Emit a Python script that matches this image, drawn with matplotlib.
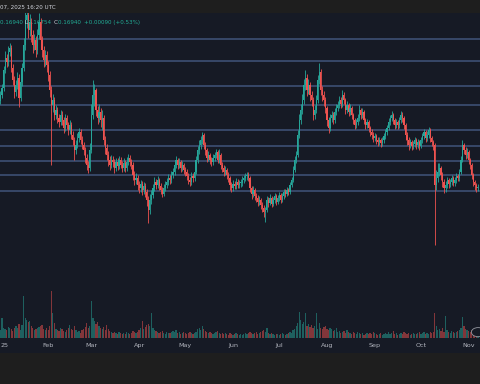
import numpy as np
import matplotlib
matplotlib.use("Agg")
import matplotlib.pyplot as plt
import matplotlib.dates as mdates
from matplotlib.patches import Rectangle, Circle
import datetime as dt

# ---------------- data (prices in thousandths of USDT, daily candles from 2025-01-01) -------------
first_open = 255
closes = [261,268,286,298,294,304,308,288,276,264,
          271,278,258,274,288,311,336,341,326,334,
          321,311,316,306,321,334,316,306,296,301,
          291,281,266,251,256,241,246,238,234,241,
          236,228,238,231,226,231,221,216,206,211,
          218,224,216,211,206,198,191,188,206,241,
          261,266,246,238,244,236,238,216,208,201,
          196,191,196,194,188,194,190,196,191,188,
          193,188,194,198,194,191,181,176,178,171,
          168,172,166,170,164,156,146,156,161,168,
          174,171,176,170,166,162,168,171,174,178,
          176,181,184,191,196,191,194,188,191,186,
          184,180,176,174,180,178,184,196,206,211,
          216,221,211,206,198,201,196,194,198,201,
          204,196,201,191,188,184,186,181,178,171,
          168,172,170,174,171,173,173,176,178,180,
          181,178,168,162,166,160,158,154,156,151,
          148,144,146,156,153,158,152,156,160,154,
          158,161,156,160,164,162,166,164,171,176,
          186,196,201,221,236,246,256,271,278,266,
          271,261,256,241,246,256,276,284,266,261,
          256,248,236,228,238,241,236,244,248,251,
          256,252,261,256,246,251,244,248,241,236,
          231,234,238,246,241,244,236,231,234,228,
          224,221,218,220,216,214,216,213,216,220,
          224,228,234,238,241,236,231,234,231,236,
          241,238,231,221,216,211,214,210,212,216,
          211,214,210,216,220,224,218,221,226,218,
          214,211,171,178,184,188,181,174,168,171,
          176,172,174,178,173,176,180,178,184,196,
          211,206,201,204,196,191,181,174,171,168,169]
highs = [265,272,290,305,302,310,313,311,292,280,
         276,284,282,279,293,318,345,352,346,342,
         338,326,322,320,327,343,338,320,310,306,
         305,295,285,270,262,259,251,249,242,246,
         245,239,242,241,234,236,234,225,219,216,
         223,228,227,220,214,209,202,195,213,252,
         276,272,268,250,252,248,246,241,220,212,
         205,200,201,200,197,198,198,200,199,195,
         198,196,199,202,201,197,194,185,183,181,
         175,176,175,174,173,167,160,162,166,172,
         179,177,180,178,173,169,172,175,178,182,
         181,185,188,196,200,198,198,196,195,193,
         189,187,183,179,184,183,188,200,210,216,
         220,224,223,214,208,205,203,199,202,204,
         207,206,207,203,194,191,190,188,184,180,
         174,176,175,178,177,176,177,180,181,183,
         184,184,180,170,170,168,163,161,160,158,
         154,151,149,160,159,162,160,159,163,162,
         161,164,163,163,167,167,169,168,174,179,
         190,200,205,226,242,252,262,277,286,282,
         277,274,265,259,251,261,281,293,287,270,
         265,259,250,239,242,245,244,248,252,255,
         260,259,266,264,258,255,253,252,250,243,
         238,237,242,251,248,248,246,238,237,236,
         230,227,224,223,222,219,219,218,219,223,
         227,231,238,241,245,243,238,237,236,239,
         245,244,240,233,224,219,217,216,215,219,
         218,217,216,219,223,227,226,225,229,228,
         220,216,213,186,193,193,190,184,177,175,
         179,178,177,181,180,179,183,182,187,200,
         216,213,209,208,206,198,193,183,176,173,172]
lows = [252,258,265,283,289,290,300,284,271,258,
        260,267,249,255,270,285,306,328,318,320,
        314,303,306,299,302,317,310,299,289,290,
        284,275,259,191,244,236,237,233,229,231,
        231,223,225,227,221,222,217,211,196,202,
        208,214,212,207,201,193,186,183,185,203,
        237,250,240,232,234,229,226,211,202,196,
        190,186,188,189,183,185,186,187,188,184,
        185,184,185,191,190,187,176,171,172,166,
        163,164,161,162,159,150,133,142,152,158,
        165,167,168,166,162,159,160,165,168,171,
        172,173,178,181,188,187,188,184,185,182,
        180,176,172,170,171,174,175,182,193,202,
        207,212,207,201,194,195,192,190,191,195,
        198,193,193,187,184,180,181,177,174,166,
        164,165,167,167,168,168,169,170,173,175,
        176,175,164,157,159,156,154,150,151,147,
        144,139,134,144,149,151,149,150,153,151,
        152,155,153,154,157,159,160,161,162,169,
        174,184,193,199,218,232,242,252,266,260,
        262,255,250,236,237,243,253,272,261,255,
        250,243,230,223,225,234,232,233,241,245,
        248,248,249,252,242,243,240,241,237,232,
        227,228,231,235,237,238,232,227,228,224,
        220,217,214,215,212,210,211,209,210,213,
        217,221,226,231,235,232,227,228,227,228,
        233,234,227,216,211,206,208,206,207,209,
        207,208,206,208,213,217,214,215,218,214,
        210,206,111,166,174,180,176,169,163,164,
        168,168,169,171,170,170,173,175,175,182,
        194,202,197,198,192,187,177,170,166,164,165]
volumes = [80,200,100,90,80,110,100,90,70,100,
           120,100,140,80,130,420,200,180,160,170,
           120,100,80,90,100,110,120,130,90,80,
           100,80,120,470,250,150,90,80,70,100,
           90,70,60,80,100,130,90,80,120,80,
           60,70,50,80,90,110,150,100,120,370,
           200,170,140,160,120,100,90,110,80,130,
           90,70,60,50,60,50,40,60,50,40,
           50,40,60,50,40,50,70,60,50,60,
           80,100,170,90,110,130,140,120,250,100,
           80,70,60,50,60,70,50,40,60,50,
           50,60,70,60,80,50,60,40,50,60,
           50,40,50,60,50,40,50,60,90,100,
           80,120,90,70,60,50,60,50,40,50,
           60,70,50,40,50,40,50,40,30,50,
           40,30,40,50,40,30,40,30,40,50,
           40,50,60,50,40,50,60,40,50,60,
           70,80,60,100,50,40,50,40,30,40,
           40,30,40,50,40,30,40,50,60,50,
           80,90,120,150,260,180,140,160,250,120,
           140,110,130,100,120,250,90,150,100,90,
           110,120,90,80,100,90,70,80,100,60,
           70,50,60,70,50,80,60,50,40,60,
           50,40,60,50,40,50,30,40,50,40,
           50,40,60,50,40,30,40,50,30,40,
           50,40,60,40,50,70,40,50,30,40,
           50,40,60,50,40,50,30,40,50,40,
           40,50,60,40,50,60,40,50,40,60,
           50,60,250,120,80,90,70,100,60,220,
           80,60,50,70,60,50,60,70,80,100,
           210,120,90,80,70,60,80,70,60,50,40]   # millions
level_lines = [317, 295, 270, 251, 226, 210, 195, 181, 165]
month_ticks = ["2025-01-01", "2025-02-01", "2025-03-01", "2025-04-01", "2025-05-01",
               "2025-06-01", "2025-07-01", "2025-08-01", "2025-09-01", "2025-10-01",
               "2025-11-01"]
month_labels = ["25", "Feb", "Mar", "Apr", "May", "Jun", "Jul", "Aug", "Sep", "Oct", "Nov"]
header_text = "07, 2025 16:20 UTC"
legend_parts = [("0.16940 ", "teal"), ("L", "lbl"), ("0.16754  ", "teal"), ("C", "lbl"),
                ("0.16940  ", "teal"), ("+0.00090 (+0.53%)", "teal")]

# ---------------- styling ----------------
W, H = 480, 384
NAVY = "#161a25"
GRAY = "#1e1e1e"
UP = "#26a69a"
DN = "#ef5350"
LINE = "#3a4b6e"
TXT = "#b2b5be"
FS = 4.1

closes_p = np.array(closes) / 1000.0
highs_p = np.array(highs) / 1000.0
lows_p = np.array(lows) / 1000.0
opens_p = np.concatenate([[first_open / 1000.0], closes_p[:-1]])
vols = np.array(volumes, dtype=float)

start = mdates.date2num(dt.datetime(2025, 1, 1))
x = start + np.arange(len(closes_p))
up = closes_p >= opens_p
colors = np.where(up, UP, DN)

fig = plt.figure(figsize=(W / 100, H / 100), dpi=100, facecolor=GRAY)
# navy chart panel (including time-scale strip), behind all axes
fig.patches.append(Rectangle((0, 31 / H), 1, (353 - 13) / H, transform=fig.transFigure,
                             facecolor=NAVY, edgecolor="none", zorder=-5))

axv = fig.add_axes([0, (H - 338) / H, 1, (338 - 13) / H])
axv.patch.set_visible(False)
axv.axis("off")
axv.bar(x, vols, width=0.8, color=colors, alpha=0.5, linewidth=0)
axv.set_ylim(0, 3250)

ax = fig.add_axes([0, (H - 338) / H, 1, (338 - 13) / H], sharex=axv)
ax.patch.set_visible(False)
for s in ax.spines.values():
    s.set_visible(False)

# level lines
for lv in level_lines:
    ax.axhline(lv / 1000.0, color=LINE, lw=1.3, zorder=1)

# candles
ax.vlines(x, lows_p, highs_p, colors=colors, lw=0.6, zorder=2)
body_lo = np.minimum(opens_p, closes_p)
body_h = np.maximum(np.abs(closes_p - opens_p), 0.0008)
ax.bar(x, body_h, bottom=body_lo, width=0.75, color=colors, linewidth=0, zorder=3)

ax.set_ylim(0.018, 0.343)
ax.set_yticks([])
x0 = start - 0.32
ax.set_xlim(x0, x0 + 480 / 1.54)

ax.set_xticks([mdates.datestr2num(d) for d in month_ticks])
ax.set_xticklabels(month_labels)
ax.tick_params(axis="x", length=0, pad=3.5, labelsize=4.6, labelcolor=TXT)
ax.get_xticklabels()[0].set_horizontalalignment("left")

# TradingView-style badge at bottom right
ax.add_patch(Circle((0.996, 0.018), 0.014, transform=ax.transAxes, facecolor=NAVY,
                    edgecolor="#9598a1", lw=0.6, zorder=4, clip_on=True))

# header texts
fig.text(0.0, 1 - 7 / H, header_text, color="#d1d4dc", fontsize=FS, va="center", ha="left")
cmap = {"teal": "#22ab94", "lbl": "#d1d4dc"}
prev = fig.text(0.0, 1 - 22.5 / H, legend_parts[0][0], color=cmap[legend_parts[0][1]],
                fontsize=FS, va="center", ha="left", zorder=5)
for txt, c in legend_parts[1:]:
    prev = fig.add_artist(matplotlib.text.Annotation(
        txt, xy=(1, 0.5), xycoords=prev, va="center", ha="left",
        color=cmap[c], fontsize=FS, annotation_clip=False, zorder=5))

fig.savefig("out.png", dpi=100, facecolor=GRAY)
